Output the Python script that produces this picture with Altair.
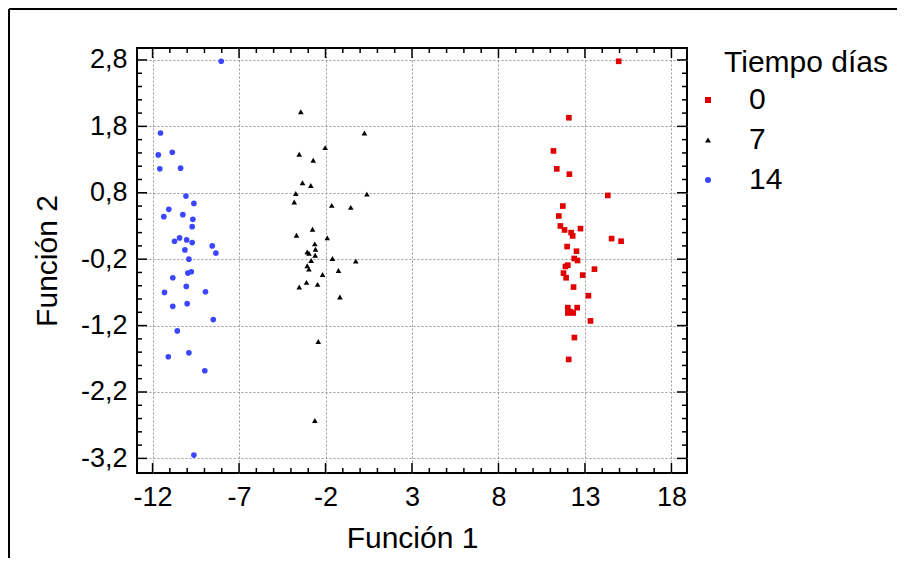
import altair as alt
import pandas as pd

# ---- data ----
groups = ["0", "7", "14"]
colors = ["#e00000", "#000000", "#3a46ff"]
shapes = ["square", "triangle-up", "circle"]

# Tiempo 0 (red squares)
x0 = [14.95, 12.07, 11.18, 11.37, 12.10, 14.32, 11.72, 11.49, 12.74, 11.58, 11.82, 12.20, 12.29,
      14.54, 15.09, 11.97, 12.51, 12.38, 12.57, 12.01, 11.87, 13.55, 11.76, 12.87, 11.91, 12.34,
      13.20, 12.01, 12.55, 12.01, 12.32, 12.16, 13.32, 12.39, 12.06]
y0 = [2.78, 1.93, 1.43, 1.16, 1.08, 0.76, 0.60, 0.45, 0.26, 0.30, 0.24, 0.20, 0.15,
      0.11, 0.07, -0.01, -0.08, -0.19, -0.22, -0.29, -0.31, -0.35, -0.41, -0.44, -0.48, -0.62,
      -0.75, -0.93, -0.93, -1.01, -1.01, -0.99, -1.13, -1.38, -1.71]

# Tiempo 7 (black triangles)
x7 = [-3.43, 0.25, -2.02, -3.52, -2.71, -3.33, -2.85, -3.72, 0.39, -3.81, -1.64, -0.54, -2.75,
      -3.68, -1.90, -2.62, -2.58, -3.06, -2.96, -2.60, -2.83, -1.60, -0.25, -3.06, -2.96, -1.25,
      -2.17, -3.10, -2.46, -3.52, -1.17, -2.42, -2.62]
y7 = [2.02, 1.70, 1.48, 1.38, 1.29, 0.95, 0.91, 0.79, 0.78, 0.66, 0.61, 0.58, 0.25,
      0.16, 0.12, 0.03, -0.05, -0.09, -0.11, -0.14, -0.22, -0.19, -0.23, -0.30, -0.35, -0.37,
      -0.43, -0.55, -0.58, -0.62, -0.77, -1.44, -2.63]

# Tiempo 14 (blue circles)
x14 = [-8.03, -11.54, -11.67, -10.86, -11.58, -10.38, -10.07, -9.61, -11.06, -11.35, -10.25, -9.67,
       -9.71, -10.73, -10.44, -10.03, -9.71, -10.13, -8.55, -8.34, -9.90, -9.96, -9.76, -10.83,
       -10.05, -11.31, -8.94, -10.83, -10.00, -8.49, -10.57, -11.09, -9.90, -8.98, -9.61]
y14 = [2.78, 1.70, 1.37, 1.41, 1.16, 1.17, 0.75, 0.64, 0.55, 0.44, 0.47, 0.40,
       0.29, 0.07, 0.12, 0.09, 0.05, -0.06, 0.00, -0.11, -0.20, -0.41, -0.39, -0.48,
       -0.61, -0.70, -0.69, -0.91, -0.87, -1.11, -1.28, -1.67, -1.61, -1.88, -3.15]

x_major = [-12, -7, -2, 3, 8, 13, 18]
x_minor = [-11, -10, -9, -8, -6, -5, -4, -3, -1, 0, 1, 2, 4, 5, 6, 7, 9, 10, 11, 12,
           14, 15, 16, 17]
y_major = [2.8, 1.8, 0.8, -0.2, -1.2, -2.2, -3.2]
y_minor = [2.6, 2.4, 2.2, 2.0, 1.6, 1.4, 1.2, 1.0, 0.6, 0.4, 0.2, 0.0, -0.4, -0.6, -0.8,
           -1.0, -1.4, -1.6, -1.8, -2.0, -2.4, -2.6, -2.8, -3.0]

# ---- build tables ----
rows = []
for xs, ys, g in [(x0, y0, "0"), (x7, y7, "7"), (x14, y14, "14")]:
    for a, b in zip(xs, ys):
        rows.append({"f1": a, "f2": b, "t": g})
df = pd.DataFrame(rows)

FONT = "Liberation Sans"
W, H = 550, 425

xscale = alt.Scale(domain=[-12.9, 18.9], nice=False, zero=False)
yscale = alt.Scale(domain=[-3.42, 2.98], nice=False, zero=False)

grid_common = dict(grid=True, gridColor="#9a9a9a", gridDash=[2, 2], gridWidth=1,
                   ticks=False, domain=False, labelColor="black", titleColor="black",
                   labelFont=FONT, titleFont=FONT, labelFontSize=27, titleFontSize=30,
                   titleFontWeight="normal", labelFlush=False, labelOverlap=False)

xaxis = alt.Axis(title="Función 1", values=x_major, labelExpr="'' + datum.value",
                 labelPadding=11, titlePadding=13, **grid_common)
yaxis = alt.Axis(title="Función 2", values=y_major,
                 labelExpr="replace('' + datum.value, '.', ',')",
                 labelPadding=10, titlePadding=18, **grid_common)

legend = alt.Legend(title=None, orient="none", legendX=556, legendY=37,
                    labelFontSize=30, labelFont=FONT, labelColor="black",
                    symbolSize=36, rowPadding=10, labelOffset=26, padding=0,
                    symbolStrokeWidth=0)

points = alt.Chart(df).mark_point(filled=True, opacity=1, size=32).encode(
    x=alt.X("f1:Q", scale=xscale, axis=xaxis),
    y=alt.Y("f2:Q", scale=yscale, axis=yaxis),
    color=alt.Color("t:N", scale=alt.Scale(domain=groups, range=colors), legend=legend),
    shape=alt.Shape("t:N", scale=alt.Scale(domain=groups, range=shapes), legend=legend),
)

xmaj = pd.DataFrame({"v": x_major})
xmin = pd.DataFrame({"v": x_minor})
ymaj = pd.DataFrame({"v": y_major})
ymin = pd.DataFrame({"v": y_minor})


def xticks(d, y1, y2):
    return alt.Chart(d).mark_rule(color="black", strokeWidth=1.5).encode(
        x=alt.X("v:Q", scale=xscale, axis=xaxis), y=alt.value(y1), y2=alt.value(y2))


def yticks(d, x1, x2):
    return alt.Chart(d).mark_rule(color="black", strokeWidth=1.5).encode(
        y=alt.Y("v:Q", scale=yscale, axis=yaxis), x=alt.value(x1), x2=alt.value(x2))


tick_layers = [
    xticks(xmaj, H, H - 10), xticks(xmaj, 0, 10),
    xticks(xmin, H, H - 5), xticks(xmin, 0, 5),
    yticks(ymaj, 0, 10), yticks(ymaj, W, W - 10),
    yticks(ymin, 0, 5), yticks(ymin, W, W - 5),
]

one = alt.Data(values=[{"a": 1}])
frame_top = alt.Chart(one).mark_rule(color="black", strokeWidth=2).encode(
    x=alt.value(-128), x2=alt.value(900), y=alt.value(-39))
frame_left = alt.Chart(one).mark_rule(color="black", strokeWidth=2).encode(
    x=alt.value(-128), y=alt.value(-39), y2=alt.value(700))

legend_title = alt.Chart(one).mark_text(
    text="Tiempo días", font=FONT, fontSize=30, align="left", baseline="alphabetic",
    color="black").encode(x=alt.value(587), y=alt.value(24))

chart = alt.layer(points, *tick_layers, frame_top, frame_left, legend_title).properties(
    width=W, height=H,
    autosize=alt.AutoSizeParams(type="none"),
    padding={"left": 129, "top": 40, "right": 210, "bottom": 85},
).configure_view(stroke="black", strokeWidth=2)

chart.save("out.html", embed_options={"renderer": "svg", "actions": False})
